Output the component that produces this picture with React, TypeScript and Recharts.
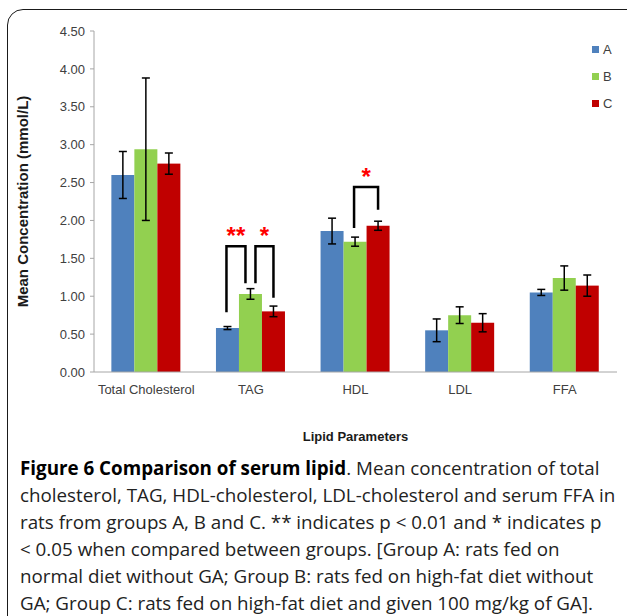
import React from 'react';
import { BarChart, Bar, XAxis, YAxis, ErrorBar } from 'recharts';

const categories = ['Total Cholesterol', 'TAG', 'HDL', 'LDL', 'FFA'];
const groupA = [2.6, 0.58, 1.86, 0.55, 1.05];
const groupB = [2.94, 1.03, 1.72, 0.75, 1.24];
const groupC = [2.75, 0.8, 1.93, 0.65, 1.14];
const errA = [0.31, 0.02, 0.17, 0.15, 0.04];
const errB = [0.94, 0.07, 0.06, 0.11, 0.16];
const errC = [0.14, 0.07, 0.06, 0.12, 0.14];
const yTicks = [0, 0.5, 1, 1.5, 2, 2.5, 3, 3.5, 4, 4.5];

// significance brackets, heights in mmol/L
const brackets = [
  { category: 'TAG', from: 'A', to: 'B', fromY: 0.79, toY: 1.17, topY: 1.66, mark: '**' },
  { category: 'TAG', from: 'B', to: 'C', fromY: 1.17, toY: 0.98, topY: 1.66, mark: '*' },
  { category: 'HDL', from: 'B', to: 'C', fromY: 1.9, toY: 2.14, topY: 2.44, mark: '*' },
];

const series = [
  { key: 'A', err: 'errA', color: '#4F81BD' },
  { key: 'B', err: 'errB', color: '#92D050' },
  { key: 'C', err: 'errC', color: '#C00000' },
];

const data = categories.map((name, i) => ({
  name,
  A: groupA[i],
  B: groupB[i],
  C: groupC[i],
  errA: errA[i],
  errB: errB[i],
  errC: errC[i],
}));

const keys = series.map((s) => s.key);
const axisFont = '"Liberation Sans", Arial, sans-serif';

// last series draws the brackets on top, using its own bar geometry as the scale
function BarWithBrackets(props: any) {
  const { x, y, width, height, payload, fill } = props;
  const perUnit = payload.C ? height / payload.C : 0;
  const base = y + height;
  const toPx = (v: number) => base - v * perUnit;
  const centerOf = (k: string) => x - (keys.length - 1 - keys.indexOf(k)) * width + width / 2;
  const list = brackets.filter((b) => b.category === payload.name);
  return (
    <g>
      <rect x={x} y={y} width={width} height={height} fill={fill} />
      {list.map((b, i) => {
        const sharedLeft = brackets.some((o) => o !== b && o.category === b.category && o.to === b.from);
        const sharedRight = brackets.some((o) => o !== b && o.category === b.category && o.from === b.to);
        const x1 = centerOf(b.from) + (sharedLeft ? 5 : -1);
        const x2 = centerOf(b.to) - (sharedRight ? 5 : 0);
        const top = toPx(b.topY);
        return (
          <g key={i}>
            <polyline
              points={`${x1},${toPx(b.fromY)} ${x1},${top} ${x2},${top} ${x2},${toPx(b.toY)}`}
              fill="none"
              stroke="#000"
              strokeWidth={2.5}
            />
            <text
              x={(x1 + x2) / 2}
              y={top - 2}
              textAnchor="middle"
              fill="#ff0000"
              fontSize={24}
              fontWeight="bold"
              fontFamily={axisFont}
            >
              {b.mark}
            </text>
          </g>
        );
      })}
    </g>
  );
}

const captionLines = [
  'cholesterol, TAG, HDL-cholesterol, LDL-cholesterol and serum FFA in',
  'rats from groups A, B and C. ** indicates p < 0.01 and * indicates p',
  '< 0.05 when compared between groups. [Group A: rats fed on',
  'normal diet without GA; Group B: rats fed on high-fat diet without',
  'GA; Group C: rats fed on high-fat diet and given 100 mg/kg of GA].',
];

export default function App() {
  return (
    <div style={{ position: 'absolute', left: 0, top: 0, width: 627, height: 616, overflow: 'hidden', background: '#fff' }}>
      <div
        style={{
          position: 'absolute',
          left: 7,
          top: 9,
          width: 700,
          height: 700,
          border: '1.5px solid #1a1a1a',
          borderRadius: 16,
        }}
      />
      <div style={{ position: 'absolute', left: 0, top: 0 }}>
        <BarChart
          width={627}
          height={450}
          data={data}
          margin={{ top: 31, right: 10, bottom: 0, left: 0 }}
          barCategoryGap="16.6%"
          barGap={0}
        >
          <YAxis
            width={94}
            domain={[0, 4.5]}
            ticks={yTicks}
            tickFormatter={(v: number) => v.toFixed(2)}
            axisLine={{ stroke: '#a6a6a6' }}
            tickLine={{ stroke: '#a6a6a6' }}
            tickSize={4}
            tickMargin={5}
            tick={{ fill: '#404040', fontSize: 13, fontFamily: axisFont }}
            label={{
              content: (p: any) => {
                const vb = p.viewBox;
                const cx = 22;
                const cy = vb.y + vb.height / 2;
                return (
                  <text
                    x={cx}
                    y={cy}
                    transform={`rotate(-90 ${cx} ${cy})`}
                    textAnchor="middle"
                    dominantBaseline="central"
                    fontSize={15}
                    fontWeight="bold"
                    fontFamily={axisFont}
                    fill="#1a1a1a"
                  >
                    Mean Concentration (mmol/L)
                  </text>
                );
              },
            }}
          />
          <XAxis
            dataKey="name"
            height={78}
            interval={0}
            tickLine={false}
            tickSize={0}
            tickMargin={13}
            axisLine={{ stroke: '#a6a6a6' }}
            tick={{ fill: '#404040', fontSize: 13, fontFamily: axisFont }}
            label={{
              value: 'Lipid Parameters',
              position: 'insideBottom',
              offset: 9,
              style: { fontSize: 13, fontWeight: 'bold', fontFamily: axisFont, fill: '#1a1a1a' },
            }}
          />
          {series.map((s) => (
            <Bar
              key={s.key}
              dataKey={s.key}
              fill={s.color}
              isAnimationActive={false}
              shape={s.key === 'C' ? BarWithBrackets : undefined}
            >
              <ErrorBar dataKey={s.err} width={4} stroke="#000" strokeWidth={1.5} isAnimationActive={false} />
            </Bar>
          ))}
        </BarChart>
      </div>

      <div style={{ position: 'absolute', left: 592, top: 36, fontFamily: axisFont, fontSize: 13, color: '#404040' }}>
        {series.map((s) => (
          <div key={s.key} style={{ display: 'flex', alignItems: 'center', height: 27 }}>
            <span style={{ display: 'inline-block', width: 7, height: 7, background: s.color, marginRight: 4 }} />
            <span>{s.key}</span>
          </div>
        ))}
      </div>

      <div
        style={{
          position: 'absolute',
          left: 20,
          top: 455,
          fontFamily: '"Open Sans", sans-serif',
          fontSize: 18.8,
          lineHeight: '27px',
          color: '#222',
          whiteSpace: 'nowrap',
        }}
      >
        <div>
          <b style={{ color: '#000' }}>Figure 6 Comparison of serum lipid</b>. Mean concentration of total
        </div>
        {captionLines.map((l, i) => (
          <div key={i}>{l}</div>
        ))}
      </div>
    </div>
  );
}
